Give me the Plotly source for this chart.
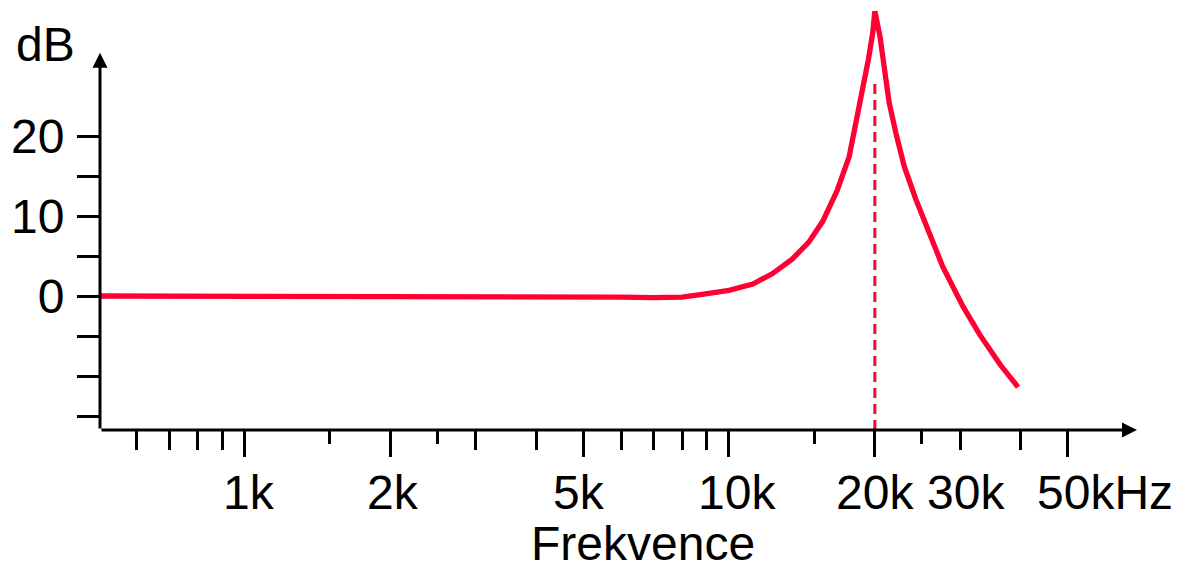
import numpy as np
import plotly.graph_objects as go

# ---- data ----
freq_hz = [503, 1000, 2000, 3000, 4000, 5000, 6000, 7000, 8000, 8800, 10000,
           11200, 12300, 13500, 14600, 15600, 16700, 17700, 18400, 18900, 19400,
           19800, 20000, 20500, 20900, 21400, 22100, 23000, 24300, 26000, 27600,
           30400, 32900, 36300, 39500]
gain_db = [0, 0, 0, 0, 0, -0.05, -0.15, -0.2, -0.15, 0.2, 0.7,
           1.5, 2.8, 4.6, 6.7, 9.3, 13.1, 17.4, 22.4, 26.2, 29.6,
           32.9, 35.6, 32.4, 28.7, 24.2, 20.4, 16.2, 12.1, 7.4, 3.7,
           -1.3, -4.8, -8.6, -11.4]

resonance_hz = 20000
resonance_marker_db = [-16.75, 27]

x_major = [1000, 2000, 5000, 10000, 20000, 50000]
x_medium = [600, 700, 800, 900, 3000, 4000, 6000, 7000, 8000, 9000, 30000, 40000]
x_short = [1500, 2500, 15000, 25000]
x_label_vals = [1000, 2000, 5000, 10000, 20000, 30000, 50000]
x_labels = ["1k", "2k", "5k", "10k", "20k", "30k", "50kHz"]

y_ticks = [-15, -10, -5, 0, 5, 10, 15, 20]
y_labels = ["", "", "", "0", "", "10", "", "20"]

x_title = "Frekvence"
y_title = "dB"

# ---- layout constants ----
X_MIN_LOG = 2.7018
X_MAX_LOG = 4.8421
Y_MIN = -16.75
Y_MAX = 37.0
Y_ARROW_TOP = 30.4
RED = "#FF0033"
FONT = "Liberation Sans, Arial, sans-serif"
FS = 48
label_xshift = [5, 3, -4, 8, 0, 6, 37]

fig = go.Figure()

fig.add_trace(go.Scatter(
    x=[resonance_hz, resonance_hz], y=resonance_marker_db, mode="lines",
    line=dict(color=RED, width=3, dash="10px,6px"), hoverinfo="skip",
    showlegend=False))

fig.add_trace(go.Scatter(
    x=freq_hz, y=gain_db, mode="lines",
    line=dict(color=RED, width=5.3), showlegend=False))

# short ticks via overlay axis
fig.add_trace(go.Scatter(x=[freq_hz[0]], y=[0], xaxis="x2", mode="markers",
                         marker=dict(opacity=0), showlegend=False, hoverinfo="skip"))

fig.update_layout(
    width=1197, height=570,
    margin=dict(l=100, r=60, t=0, b=140),
    paper_bgcolor="white", plot_bgcolor="white",
    font=dict(family=FONT, size=FS, color="black"),
    xaxis=dict(type="log", range=[X_MIN_LOG, X_MAX_LOG], showgrid=False,
               zeroline=False, showline=False,
               tickmode="array", tickvals=x_major, ticktext=[""] * len(x_major),
               ticks="outside", ticklen=26, tickwidth=3, tickcolor="black",
               minor=dict(tickmode="array", tickvals=x_medium, ticks="outside",
                          ticklen=19, tickwidth=3, tickcolor="black", showgrid=False)),
    xaxis2=dict(type="log", range=[X_MIN_LOG, X_MAX_LOG], overlaying="x",
                anchor="y", side="bottom", showgrid=False, zeroline=False,
                showline=False, tickmode="array", tickvals=x_short,
                ticktext=[""] * len(x_short), ticks="outside", ticklen=13,
                tickwidth=3, tickcolor="black"),
    yaxis=dict(range=[Y_MIN, Y_MAX], showgrid=False, zeroline=False,
               showline=False, tickmode="array", tickvals=y_ticks,
               ticktext=y_labels, ticks="outside", ticklen=22, tickwidth=3,
               tickcolor="black", ticklabelstandoff=3,
               tickfont=dict(family=FONT, size=FS, color="black")),
)

annotations = []
# axes with arrowheads
annotations.append(dict(x=X_MAX_LOG, y=Y_MIN, ax=X_MIN_LOG, ay=Y_MIN,
                        xref="x", yref="y", axref="x", ayref="y", text="",
                        showarrow=True, arrowhead=2, arrowsize=1, arrowwidth=3,
                        arrowcolor="black"))
annotations.append(dict(x=X_MIN_LOG, y=Y_ARROW_TOP, ax=X_MIN_LOG, ay=Y_MIN,
                        xref="x", yref="y", axref="x", ayref="y", text="",
                        showarrow=True, arrowhead=2, arrowsize=1, arrowwidth=3,
                        arrowcolor="black"))
for v, t, s in zip(x_label_vals, x_labels, label_xshift):
    annotations.append(dict(x=np.log10(v), y=Y_MIN, xref="x", yref="y", text=t,
                            showarrow=False, xanchor="center", yanchor="middle",
                            xshift=s, yshift=-62,
                            font=dict(family=FONT, size=FS, color="black")))
annotations.append(dict(x=0.5, y=Y_MIN, xref="paper", yref="y", text=x_title,
                        showarrow=False, xanchor="center", yanchor="middle",
                        xshift=643 - (100 + 1037 / 2), yshift=-113,
                        font=dict(family=FONT, size=FS, color="black")))
annotations.append(dict(x=X_MIN_LOG, y=Y_ARROW_TOP, xref="x", yref="y", text=y_title,
                        showarrow=False, xanchor="center", yanchor="middle",
                        xshift=-55, yshift=8,
                        font=dict(family=FONT, size=FS, color="black")))
fig.update_layout(annotations=annotations)

fig.write_html("out.html")
